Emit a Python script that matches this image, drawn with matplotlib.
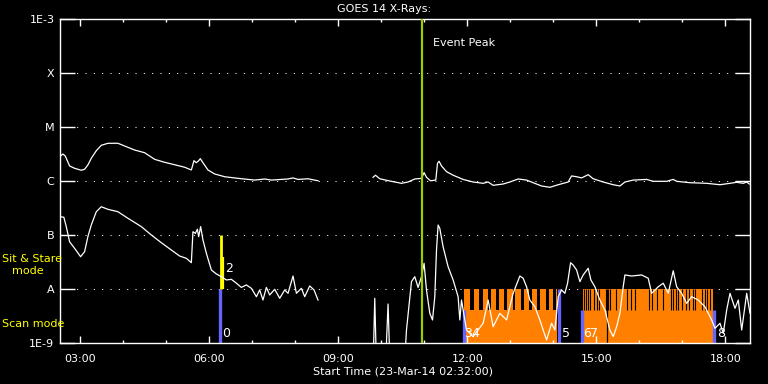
import matplotlib
matplotlib.use('Agg')
import matplotlib.pyplot as plt
from matplotlib.ticker import FixedLocator, NullFormatter

# times are decimal hours on 23-Mar-14, fluxes in W/m^2
t_start = 2 + 32/60.
t_end = 18.57
peak_time = 10.958

# long channel (upper curve), two segments with a data gap
hi_t1 = [2.547, 2.60, 2.656, 2.756, 2.872, 3.028, 3.105, 3.181, 3.26, 3.377, 3.493, 3.647,
         3.879, 4.035, 4.267, 4.50, 4.733, 4.965, 5.198, 5.43, 5.586, 5.647, 5.702, 5.756,
         5.795, 5.856, 5.972, 6.128, 6.36, 6.67, 7.058, 7.291, 7.447, 7.833, 7.949, 8.065,
         8.298, 8.53]
hi_f1 = [2.9e-6, 3.16e-6, 2.9e-6, 1.9e-6, 1.72e-6, 1.58e-6, 1.65e-6, 1.98e-6, 2.63e-6, 3.64e-6,
         4.58e-6, 4.99e-6, 5.0e-6, 4.45e-6, 3.75e-6, 3.34e-6, 2.52e-6, 2.22e-6, 2.0e-6, 1.8e-6,
         1.6e-6, 2.38e-6, 2.18e-6, 2.38e-6, 2.59e-6, 2.18e-6, 1.6e-6, 1.35e-6, 1.2e-6, 1.12e-6,
         1.04e-6, 1.09e-6, 1.04e-6, 1.09e-6, 1.14e-6, 1.07e-6, 1.10e-6, 1.01e-6]
hi_t2 = [9.809, 9.865, 9.965, 10.198, 10.47, 10.623, 10.779, 10.935, 10.995, 11.051, 11.144,
         11.267, 11.307, 11.344, 11.40, 11.516, 11.67, 11.902, 12.135, 12.367, 12.484, 12.60,
         12.833, 12.988, 13.181, 13.377, 13.53, 13.726, 13.919, 14.112, 14.344, 14.423, 14.54,
         14.656, 14.809, 14.926, 15.158, 15.391, 15.547, 15.663, 15.856, 16.167, 16.321, 16.633,
         16.786, 16.865, 17.174, 17.563, 17.872, 18.105, 18.26, 18.414, 18.493, 18.553]
hi_f2 = [1.17e-6, 1.28e-6, 1.10e-6, 1.0e-6, 9.06e-7, 9.58e-7, 1.09e-6, 1.12e-6, 1.43e-6, 1.17e-6,
         1.01e-6, 1.04e-6, 2.13e-6, 2.32e-6, 1.9e-6, 1.49e-6, 1.28e-6, 1.07e-6, 9.58e-7, 9.06e-7,
         9.58e-7, 8.32e-7, 8.8e-7, 9.58e-7, 1.09e-6, 1.04e-6, 9.3e-7, 8.08e-7, 7.64e-7, 8.53e-7,
         9.58e-7, 1.24e-6, 1.2e-6, 1.14e-6, 1.31e-6, 1.1e-6, 9.58e-7, 8.53e-7, 8.08e-7, 9.58e-7,
         1.04e-6, 1.07e-6, 9.87e-7, 9.87e-7, 1.07e-6, 9.87e-7, 9.3e-7, 9.06e-7, 8.53e-7, 9.06e-7,
         9.46e-7, 9.06e-7, 9.58e-7, 8.8e-7]

# short channel (lower curve)
lo_t1 = [2.547, 2.623, 2.679, 2.756, 2.872, 3.012, 3.105, 3.181, 3.26, 3.377, 3.493, 3.647,
         3.879, 4.112, 4.423, 4.656, 4.888, 5.121, 5.314, 5.47, 5.586, 5.623, 5.679, 5.726,
         5.756, 5.802, 5.856, 5.935, 6.051, 6.167, 6.284, 6.4, 6.516, 6.633, 6.749, 6.865,
         6.981, 7.098, 7.174, 7.251, 7.33, 7.407, 7.523, 7.64, 7.756, 7.833, 7.949, 8.028,
         8.144, 8.221, 8.337, 8.437, 8.53]
lo_f1 = [2.18e-7, 2.13e-7, 1.43e-7, 7.5e-8, 5.67e-8, 3.96e-8, 4.91e-8, 9.3e-8, 1.53e-7, 2.7e-7,
         3.34e-7, 2.99e-7, 2.7e-7, 2.04e-7, 1.43e-7, 1.0e-7, 7.2e-8, 5.27e-8, 4.08e-8, 3.7e-8,
         3.07e-8, 1.15e-7, 1.07e-7, 1.28e-7, 9.3e-8, 1.43e-7, 8.07e-8, 4.58e-8, 2.25e-8, 1.9e-8,
         1.69e-8, 1.47e-8, 1.51e-8, 1.28e-8, 1.07e-8, 1.19e-8, 1.03e-8, 7.2e-9, 9.6e-9, 6.25e-9,
         1.07e-8, 7.74e-9, 9.87e-9, 6.73e-9, 9.6e-9, 8.32e-9, 1.74e-8, 8.32e-9, 1.03e-8, 7.2e-9,
         1.14e-8, 9.6e-9, 6.25e-9]
lo_t2 = [9.733, 9.814, 9.849, 9.884, 10.105, 10.158, 10.198, 10.547, 10.586, 10.702, 10.779,
         10.856, 10.935, 10.995, 11.051, 11.128, 11.191, 11.244, 11.284, 11.321, 11.36, 11.437,
         11.553, 11.67, 11.786, 11.826, 11.865, 11.981, 12.135, 12.367, 12.484, 12.60, 12.756,
         12.912, 13.065, 13.221, 13.298, 13.377, 13.453, 13.57, 13.686, 13.763, 13.842, 13.958,
         14.035, 14.112, 14.191, 14.267, 14.33, 14.40, 14.46, 14.54, 14.616, 14.693, 14.809,
         14.872, 14.965, 15.081, 15.198, 15.314, 15.391, 15.47, 15.547, 15.623, 15.663, 15.819,
         16.051, 16.205, 16.284, 16.437, 16.553, 16.67, 16.786, 16.865, 16.981, 17.098, 17.214,
         17.367, 17.523, 17.679, 17.756, 17.872, 17.949, 18.028, 18.105, 18.221, 18.298, 18.377,
         18.493, 18.57]
lo_f2 = [5e-10, 5e-10, 6.73e-9, 5e-10, 5e-10, 5.27e-9, 5e-10, 5e-10, 1.74e-9, 1.37e-8, 1.69e-8,
         1.07e-8, 1.69e-8, 2.99e-8, 9.6e-9, 3.55e-9, 2.67e-9, 7.2e-9, 5.27e-8, 1.53e-7, 1.33e-7,
         6.07e-8, 2.59e-8, 1.47e-8, 7.2e-9, 2.67e-9, 6.25e-9, 1.74e-9, 1.31e-9, 2.32e-9, 6.25e-9,
         2.0e-9, 3.55e-9, 2.67e-9, 8.32e-9, 1.74e-8, 1.58e-8, 1.1e-8, 6.25e-9, 4.7e-9, 2.67e-9,
         1.74e-9, 1.14e-9, 2.32e-9, 1.74e-9, 7.2e-9, 9.6e-9, 8.32e-9, 1.28e-8, 3.07e-8, 2.78e-8,
         2.25e-8, 1.37e-8, 1.82e-8, 2.42e-8, 1.47e-8, 1.1e-8, 6.25e-9, 4.08e-9, 1.74e-9, 1.31e-9,
         2.0e-9, 3.55e-9, 1.1e-8, 1.82e-8, 1.74e-8, 1.82e-8, 1.58e-8, 8.32e-9, 1.1e-8, 1.28e-8,
         8.32e-9, 2.18e-8, 1.1e-8, 8.32e-9, 5.43e-9, 7.2e-9, 6.25e-9, 4.7e-9, 2.67e-9, 1.87e-9,
         2.32e-9, 1.51e-9, 4.08e-9, 8.32e-9, 4.39e-9, 6.25e-9, 1.74e-9, 8.32e-9, 3.55e-9]

# IRIS observing: raster (scan) blocks and sit & stare
scan_blocks = [(11.919, 14.081), (14.679, 17.716)]
scan_low = 4.1e-9
scan_high = 1e-8
notches1 = [12.053, 12.274, 12.484, 12.663, 12.849, 13.051, 13.237, 13.437, 13.623, 13.826, 13.995]
notch1_w = [0.10, 0.08, 0.063, 0.077, 0.077, 0.061, 0.077, 0.063, 0.07, 0.069, 0.063]
notches2 = [14.716, 14.756, 14.809, 14.849, 14.949, 15.005, 15.065, 15.221, 15.26, 15.314,
            15.453, 15.702, 15.802, 15.902, 16.228, 16.284, 16.414, 16.553, 16.733, 16.786,
            16.849, 16.902, 16.981, 17.081, 17.158, 17.237, 17.291, 17.447, 17.523, 17.577, 17.64]
full_gap = 15.25
start_marks = [6.244, 11.919, 14.121, 14.663, 17.744]
start_tops = [1e-8, 4.1e-9, 1e-8, 4.1e-9, 4.1e-9]
stare_t = [6.284, 6.321]
stare_tops = [1e-7, 3.9e-8]
obs_labels = ['0', '2', '3', '4', '5', '6', '7', '8']
obs_label_t = [6.31, 6.36, 11.93, 12.09, 14.20, 14.70, 14.86, 17.80]
obs_label_f = [1.5e-9, 2.4e-8, 1.5e-9, 1.5e-9, 1.5e-9, 1.5e-9, 1.5e-9, 1.5e-9]

levels = [1e-9, 1e-8, 1e-7, 1e-6, 1e-5, 1e-4, 1e-3]
level_names = ['1E-9', 'A', 'B', 'C', 'M', 'X', '1E-3']
hour_major = [3, 6, 9, 12, 15, 18]
hour_labels = ['03:00', '06:00', '09:00', '12:00', '15:00', '18:00']
hour_minor = list(range(3, 19))

plt.rcParams['font.family'] = 'DejaVu Sans'
fig = plt.figure(figsize=(7.68, 3.84), dpi=100, facecolor='black')
ax = fig.add_axes([60/768, 1 - 343/384, 690/768, 324/384])
ax.set_facecolor('black')
ax.set_yscale('log')
ax.set_xlim(t_start, t_end)
ax.set_ylim(1e-9, 1e-3)

# dotted flux class lines
for lv in levels[1:-1]:
    ax.axhline(lv, color='white', lw=0.75, ls=(0, (1, 7)), zorder=0.5)

# scan blocks in orange with black gaps on top
orange = '#ff8000'
for (a, b) in scan_blocks:
    ax.fill_between([a, b], 5e-10, scan_high, color=orange, lw=0, zorder=1)
for n, w in zip(notches1, notch1_w):
    ax.fill_between([n, n + w], scan_low, scan_high, color='black', lw=0, zorder=1.2)
ax.vlines(notches2, scan_low, scan_high, color='black', lw=0.8, zorder=1.2)
ax.vlines([full_gap], 5e-10, scan_high, color='black', lw=0.9, zorder=1.2)

ax.vlines(start_marks, 5e-10, start_tops, color='#6464ff', lw=2.4, zorder=2)
ax.vlines(stare_t, 1e-8, stare_tops, color='#ffff00', lw=[2.0, 1.6], zorder=2)

# GOES curves
for t, f in [(hi_t1, hi_f1), (hi_t2, hi_f2), (lo_t1, lo_f1), (lo_t2, lo_f2)]:
    ax.plot(t, f, color='white', lw=0.9, zorder=3)

ax.axvline(peak_time, color='#9acd00', lw=1.6, zorder=4)
ax.text(peak_time + 0.24, 3.6e-4, 'Event Peak', color='white', fontsize=8, va='center', ha='left')

for lab, t, f in zip(obs_labels, obs_label_t, obs_label_f):
    ax.text(t, f, lab, color='white', fontsize=9, ha='left', va='center', zorder=5)

# axes styling
for s in ax.spines.values():
    s.set_color('white')
    s.set_linewidth(1)
ax.yaxis.set_major_locator(FixedLocator(levels))
ax.yaxis.set_minor_locator(FixedLocator([]))
ax.set_yticklabels(level_names)
ax.xaxis.set_major_locator(FixedLocator(hour_major))
ax.xaxis.set_minor_locator(FixedLocator(hour_minor))
ax.xaxis.set_minor_formatter(NullFormatter())
ax.set_xticklabels(hour_labels)
ax.tick_params(axis='y', which='major', direction='in', length=11, width=1, color='white',
               labelcolor='white', labelsize=8, right=True, pad=4)
ax.tick_params(axis='x', which='major', direction='in', length=5, width=1, color='white',
               labelcolor='white', labelsize=8, top=True, pad=8)
ax.tick_params(axis='x', which='minor', direction='in', length=2.5, width=1, color='white',
               top=True)

fig.text(0.5, 1 - 9/384, 'GOES 14 X-Rays:', color='white', fontsize=8, ha='center', va='center')
fig.text(403/768, 1 - 372/384, 'Start Time (23-Mar-14 02:32:00)', color='white', fontsize=8,
         ha='center', va='center')
fig.text(2/768, 1 - 259/384, 'Sit & Stare', color='#ffff00', fontsize=8, ha='left', va='center')
fig.text(28/768, 1 - 271/384, 'mode', color='#ffff00', fontsize=8, ha='center', va='center')
fig.text(2/768, 1 - 324/384, 'Scan mode', color='#ffff00', fontsize=8, ha='left', va='center')

fig.savefig('out.png', dpi=100, facecolor='black')
